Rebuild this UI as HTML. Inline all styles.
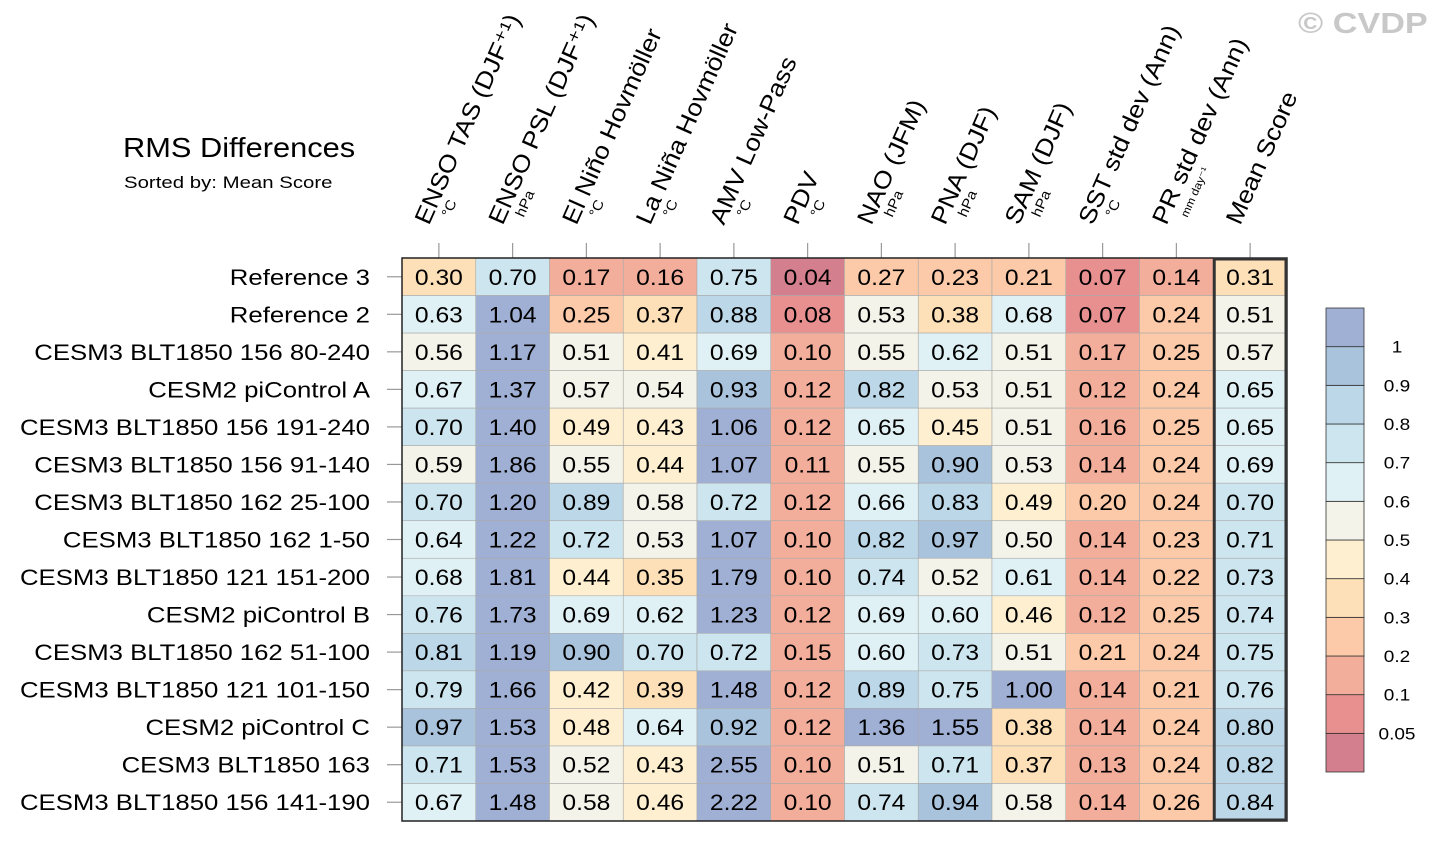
<!DOCTYPE html>
<html><head><meta charset="utf-8"><style>
body{margin:0;background:#fff;}
svg{display:block;font-family:"Liberation Sans",Arial,sans-serif;}
</style></head><body>
<svg id="chart" width="1437" height="842">
<text transform="translate(1298,33) scale(1.18,1)" font-size="29" font-weight="bold" fill="#c8c8c8">© CVDP</text>
<text transform="translate(123,157) scale(1.1,1)" font-size="28" fill="#000">RMS Differences</text>
<text transform="translate(124,188) scale(1.2,1)" font-size="17" fill="#000">Sorted by: Mean Score</text>
<g id="cols"></g><g id="rows"></g><g id="cells"></g><g id="cbar"></g>
</svg>
<script>
const columns=["ENSO TAS (DJF⁺¹)","ENSO PSL (DJF⁺¹)","El Niño Hovmöller","La Niña Hovmöller","AMV Low-Pass","PDV","NAO (JFM)","PNA (DJF)","SAM (DJF)","SST std dev (Ann)","PR std dev (Ann)","Mean Score"];
const units=["°C","hPa","°C","°C","°C","°C","hPa","hPa","hPa","°C","mm day⁻¹",""];
const rowsLabels=["Reference 3","Reference 2","CESM3 BLT1850 156 80-240","CESM2 piControl A","CESM3 BLT1850 156 191-240","CESM3 BLT1850 156 91-140","CESM3 BLT1850 162 25-100","CESM3 BLT1850 162 1-50","CESM3 BLT1850 121 151-200","CESM2 piControl B","CESM3 BLT1850 162 51-100","CESM3 BLT1850 121 101-150","CESM2 piControl C","CESM3 BLT1850 163","CESM3 BLT1850 156 141-190"];
const values=[
[0.30,0.70,0.17,0.16,0.75,0.04,0.27,0.23,0.21,0.07,0.14,0.31],
[0.63,1.04,0.25,0.37,0.88,0.08,0.53,0.38,0.68,0.07,0.24,0.51],
[0.56,1.17,0.51,0.41,0.69,0.10,0.55,0.62,0.51,0.17,0.25,0.57],
[0.67,1.37,0.57,0.54,0.93,0.12,0.82,0.53,0.51,0.12,0.24,0.65],
[0.70,1.40,0.49,0.43,1.06,0.12,0.65,0.45,0.51,0.16,0.25,0.65],
[0.59,1.86,0.55,0.44,1.07,0.11,0.55,0.90,0.53,0.14,0.24,0.69],
[0.70,1.20,0.89,0.58,0.72,0.12,0.66,0.83,0.49,0.20,0.24,0.70],
[0.64,1.22,0.72,0.53,1.07,0.10,0.82,0.97,0.50,0.14,0.23,0.71],
[0.68,1.81,0.44,0.35,1.79,0.10,0.74,0.52,0.61,0.14,0.22,0.73],
[0.76,1.73,0.69,0.62,1.23,0.12,0.69,0.60,0.46,0.12,0.25,0.74],
[0.81,1.19,0.90,0.70,0.72,0.15,0.60,0.73,0.51,0.21,0.24,0.75],
[0.79,1.66,0.42,0.39,1.48,0.12,0.89,0.75,1.00,0.14,0.21,0.76],
[0.97,1.53,0.48,0.64,0.92,0.12,1.36,1.55,0.38,0.14,0.24,0.80],
[0.71,1.53,0.52,0.43,2.55,0.10,0.51,0.71,0.37,0.13,0.24,0.82],
[0.67,1.48,0.58,0.46,2.22,0.10,0.74,0.94,0.58,0.14,0.26,0.84]];
const levels=[0.05,0.1,0.2,0.3,0.4,0.5,0.6,0.7,0.8,0.9,1];
const levelLabels=["0.05","0.1","0.2","0.3","0.4","0.5","0.6","0.7","0.8","0.9","1"];
const palette=["#d47f8e","#e89090","#f3ae9b","#fccaa8","#fde0b8","#fdefd0","#f3f3e9","#e0f1f5","#cde5ee","#bcd7e8","#a9c3dc","#a0b0d4"];
const NS="http://www.w3.org/2000/svg";
const X0=402,X1=1287,Y0=258,Y1=821;
const cw=(X1-X0)/columns.length, rh=(Y1-Y0)/rowsLabels.length;
const xc=i=>X0+cw*(i+0.5), yc=j=>Y0+rh*(j+0.5);
function colorFor(v){let k=0;for(let i=0;i<levels.length;i++){if(v>=levels[i])k=i+1;}return palette[k];}
function mk(tag,attrs,parent,txt){const e=document.createElementNS(NS,tag);for(const k in attrs)e.setAttribute(k,attrs[k]);if(txt!==undefined)e.textContent=txt;parent.appendChild(e);return e;}
const gc=document.getElementById('cols'),gr=document.getElementById('rows'),gcell=document.getElementById('cells'),gb=document.getElementById('cbar');
columns.forEach((c,i)=>{
  const x=xc(i);
  const t=mk('line',{x1:x,x2:x,y1:243,y2:258,stroke:'#999','stroke-width':1.2},gc);
  
  const l=mk('text',{x:0,y:0,'font-size':24,transform:`translate(${x-10},226) rotate(-66) scale(1.1,1)`},gc,c);
  
  if(units[i]){const u=mk('text',{x:0,y:0,'font-size':units[i].length>4?11:14,transform:`translate(${x+11},218) rotate(-66) scale(1.1,1)`},gc,units[i]);
  }
});
rowsLabels.forEach((r,j)=>{
  const y=yc(j);
  const t=mk('line',{x1:387,x2:402,y1:y,y2:y,stroke:'#999','stroke-width':1.2},gr);
  
  const l=mk('text',{x:0,y:0,'font-size':22,'text-anchor':'end',transform:`translate(370,${y+8}) scale(1.17,1)`},gr,r);
  
  values[j].forEach((v,i)=>{
    const rc=mk('rect',{x:X0+cw*i,y:Y0+rh*j,width:cw,height:rh,fill:colorFor(v),stroke:'#aaa','stroke-width':0.6},gcell);
    
    const tx=mk('text',{x:0,y:0,'font-size':22,'text-anchor':'middle',transform:`translate(${xc(i)},${y+8}) scale(1.12,1)`},gcell,v.toFixed(2));
    
  });
});
const fr=mk('rect',{x:X0,y:Y0,width:X1-X0,height:Y1-Y0,fill:'none',stroke:'#222','stroke-width':1.5},gcell);

const mb=mk('rect',{x:X0+cw*11+1,y:Y0+1,width:cw-2,height:Y1-Y0-2,fill:'none',stroke:'#333','stroke-width':3},gcell);

const CB0=308,CB1=772,bh=(CB1-CB0)/palette.length;
palette.forEach((p,k)=>{
  const r=mk('rect',{x:1326,y:CB1-bh*(k+1),width:38,height:bh,fill:p,stroke:'#333','stroke-width':0.8},gb);
  
});
levelLabels.forEach((s,k)=>{
  const t=mk('text',{x:0,y:0,'font-size':17,'text-anchor':'middle',transform:`translate(1397,${CB1-bh*(k+1)+6}) scale(1.12,1)`},gb,s);
  
});
</script>
</body></html>
